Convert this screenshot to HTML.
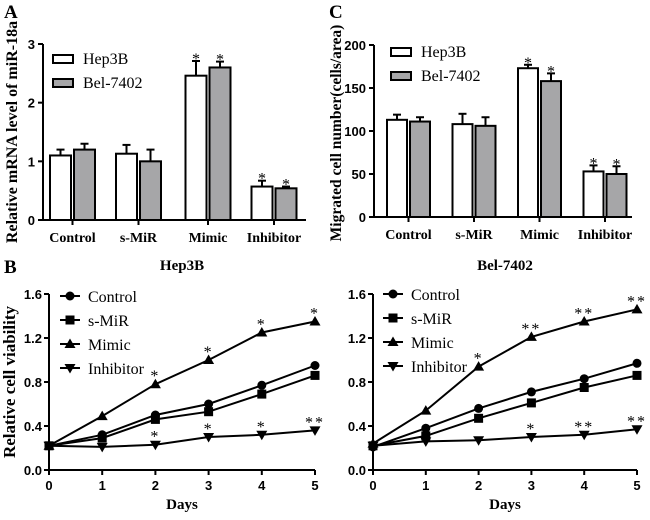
<!DOCTYPE html>
<html><head><meta charset="utf-8"><style>
body{margin:0;background:#fff}
svg text{fill:#000}
.tk{font:bold 13px "Liberation Sans",sans-serif}
.ser{font-family:"Liberation Serif",serif}
</style></head><body>
<svg id="s" width="650" height="515" xmlns="http://www.w3.org/2000/svg"></svg>
<script>
const NS='http://www.w3.org/2000/svg';
const svg=document.getElementById('s');
// Panel A data
const catsA=['Control','s-MiR','Mimic','Inhibitor'];
const hepA=[1.1,1.13,2.46,0.57];
const hepAerr=[0.1,0.15,0.25,0.1];
const belA=[1.2,1.0,2.6,0.54];
const belAerr=[0.1,0.2,0.1,0.03];
const starsA=['','','*','*'];
const ticksA=[0,1,2,3];
// Panel C data
const hepC=[113,108,173,53];
const hepCerr=[6,12,4,7];
const belC=[111,106,158,50];
const belCerr=[5,10,9,9];
const ticksC=[0,50,100,150,200];
// Panel B data
const days=[0,1,2,3,4,5];
const ticksB=[0,0.4,0.8,1.2,1.6];
const seriesNames=['Control','s-MiR','Mimic','Inhibitor'];
const hepCtrl=[0.22,0.32,0.50,0.60,0.77,0.95];
const hepSmir=[0.22,0.29,0.46,0.53,0.69,0.86];
const hepMim=[0.22,0.49,0.78,1.0,1.25,1.35];
const hepInh=[0.22,0.21,0.23,0.30,0.32,0.36];
const belCtrl=[0.21,0.38,0.56,0.71,0.83,0.97];
const belSmir=[0.22,0.31,0.47,0.61,0.75,0.86];
const belMim=[0.24,0.54,0.94,1.21,1.35,1.46];
const belInh=[0.22,0.26,0.27,0.30,0.32,0.37];
const hepMimStars=['','','*','*','*','*'];
const hepInhStars=['','','*','*','*','**'];
const belMimStars=['','','*','**','**','**'];
const belInhStars=['','','','*','**','**'];

function el(tag,attrs,parent,txt){const e=document.createElementNS(NS,tag);for(const k in attrs)e.setAttribute(k,attrs[k]);if(txt!==undefined)e.textContent=txt;(parent||svg).appendChild(e);return e;}

function barPanel(o){
  const g=el('g',{});
  
  
  const y=v=>o.y0+(o.y1-o.y0)*(v-o.min)/(o.max-o.min);
  el('line',{x1:o.ax,y1:o.y1,x2:o.ax,y2:o.y0,stroke:'#000','stroke-width':2},g);
  el('line',{x1:o.ax,y1:o.y0,x2:o.axEnd,y2:o.y0,stroke:'#000','stroke-width':2},g);
  o.ticks.forEach(t=>{const yy=y(t);el('line',{x1:o.ax-5,y1:yy,x2:o.ax,y2:yy,stroke:'#000','stroke-width':2},g);
    const tx=el('text',{x:o.ax-8,y:yy+5,'text-anchor':'end',class:'tk'},g,t);
    });
  o.cats.forEach((c,i)=>{
    const cx=o.centers[i];
    el('line',{x1:cx,y1:o.y0,x2:cx,y2:o.y0+5,stroke:'#000','stroke-width':2},g);
    const lb=el('text',{x:cx,y:o.y0+22,'text-anchor':'middle',class:'ser','font-weight':'bold','font-size':14},g,c);
    
    [[o.hep,o.hepErr,'#fff',-1],[o.bel,o.belErr,'#a6a6a8',1]].forEach(([vals,errs,fill,side])=>{
      const bx=side<0?cx-1.5-o.bw:cx+1.5;
      const top=y(vals[i]);
      const et=y(vals[i]+errs[i]);
      const mid=bx+o.bw/2;
      el('line',{x1:mid,y1:top,x2:mid,y2:et,stroke:'#000','stroke-width':2},g);
      el('line',{x1:mid-4,y1:et,x2:mid+4,y2:et,stroke:'#000','stroke-width':2},g);
      const r=el('rect',{x:bx,y:top,width:o.bw,height:o.y0-top,fill:fill,stroke:'#000','stroke-width':2},g);
      
      if(o.stars[i]){const st=el('text',{x:mid,y:et+3,'text-anchor':'middle','font-size':16,class:'ser',fill:'#555'},g,'*');
        }
    });
  });
  [['Hep3B','#fff',0],['Bel-7402','#a6a6a8',1]].forEach(([n,f,k])=>{
    const ly=o.legY+k*24;
    el('rect',{x:o.legX,y:ly,width:20,height:8,fill:f,stroke:'#000','stroke-width':2},g);
    const t=el('text',{x:o.legX+30,y:ly+9,class:'ser','font-size':16},g,n);
    
  });
  const yl=el('text',{x:o.ylx,y:o.ylc,'text-anchor':'middle',class:'ser','font-weight':'bold','font-size':o.ylfs,transform:`rotate(-90 ${o.ylx} ${o.ylc})`},g,o.ylabel);
  
}

barPanel({name:'panel-a-bar-chart',cats:catsA,hep:hepA,hepErr:hepAerr,bel:belA,belErr:belAerr,stars:starsA,ticks:ticksA,min:0,max:3,y0:220,y1:44,ax:43,axEnd:306,centers:[72.5,138.5,208,274],bw:21,legX:53,legY:55,ylx:17,ylc:132,ylfs:16,ylabel:'Relative mRNA level of miR-18a'});
barPanel({name:'panel-c-bar-chart',cats:catsA,hep:hepC,hepErr:hepCerr,bel:belC,belErr:belCerr,stars:starsA,ticks:ticksC,min:0,max:200,y0:217,y1:45,ax:374,axEnd:632,centers:[408.5,474,539.5,605],bw:20,legX:391,legY:48,ylx:341,ylc:133,ylfs:15.5,ylabel:'Migrated cell number(cells/area)'});

function marker(g,type,x,y){
  if(type===0)return el('circle',{cx:x,cy:y,r:4.5,fill:'#000'},g);
  if(type===1)return el('rect',{x:x-4.5,y:y-4.5,width:9,height:9,fill:'#000'},g);
  if(type===2)return el('polygon',{points:`${x},${y-5.5} ${x-5.5},${y+4} ${x+5.5},${y+4}`,fill:'#000'},g);
  return el('polygon',{points:`${x},${y+5.5} ${x-5.5},${y-4} ${x+5.5},${y-4}`,fill:'#000'},g);
}

function linePanel(o){
  const g=el('g',{});
  
  
  const X=d=>o.x0+(o.x1-o.x0)*d/5;
  const Y=v=>o.y0+(o.y1-o.y0)*v/1.6;
  el('line',{x1:o.x0,y1:o.y1,x2:o.x0,y2:o.y0,stroke:'#000','stroke-width':2},g);
  el('line',{x1:o.x0,y1:o.y0,x2:o.x1,y2:o.y0,stroke:'#000','stroke-width':2},g);
  ticksB.forEach(t=>{el('line',{x1:o.x0-5,y1:Y(t),x2:o.x0,y2:Y(t),stroke:'#000','stroke-width':2},g);
    const tx=el('text',{x:o.x0-7,y:Y(t)+5,'text-anchor':'end',class:'tk'},g,t.toFixed(1));
    });
  days.forEach(d=>{el('line',{x1:X(d),y1:o.y0,x2:X(d),y2:o.y0+5,stroke:'#000','stroke-width':2},g);
    const tx=el('text',{x:X(d),y:o.y0+20,'text-anchor':'middle',class:'tk'},g,d);
    });
  o.series.forEach((s,k)=>{
    const pl=el('polyline',{points:s.map((v,i)=>X(days[i])+','+Y(v)).join(' '),fill:'none',stroke:'#000','stroke-width':2},g);
    
    s.forEach((v,i)=>{const m=marker(g,k,X(days[i]),Y(v));
      });
  });
  [[o.series[2],o.mimStars],[o.series[3],o.inhStars]].forEach(([s,st])=>{
    st.forEach((t,i)=>{if(!t)return;
      const sx=el('text',{x:X(days[i]),y:Y(s[i])-3,'text-anchor':'middle','font-size':16,class:'ser',fill:'#555','letter-spacing':'2'},g,t);
      });
  });
  seriesNames.forEach((n,k)=>{
    const ly=o.legY+k*24;
    el('line',{x1:o.legX,y1:ly,x2:o.legX+20,y2:ly,stroke:'#000','stroke-width':2},g);
    marker(g,k,o.legX+10,ly);
    const t=el('text',{x:o.legX+28,y:ly+6,class:'ser','font-size':16},g,n);
    
  });
  const ti=el('text',{x:(o.x0+o.x1)/2,y:270,'text-anchor':'middle',class:'ser','font-weight':'bold','font-size':15},g,o.title);
  
  const xl=el('text',{x:(o.x0+o.x1)/2,y:509,'text-anchor':'middle',class:'ser','font-weight':'bold','font-size':15},g,'Days');
  
}
linePanel({name:'panel-b-hep3b-line-chart',title:'Hep3B',series:[hepCtrl,hepSmir,hepMim,hepInh],mimStars:hepMimStars,inhStars:hepInhStars,x0:49,x1:315,y0:470,y1:294,legX:60,legY:296});
linePanel({name:'panel-b-bel7402-line-chart',title:'Bel-7402',series:[belCtrl,belSmir,belMim,belInh],mimStars:belMimStars,inhStars:belInhStars,x0:373,x1:637,y0:470,y1:294,legX:383,legY:294});

const yb=el('text',{x:15,y:382,'text-anchor':'middle',class:'ser','font-weight':'bold','font-size':17,transform:'rotate(-90 15 382)'},svg,'Relative cell viability');

[['A',4,18],['C',329,18],['B',4,273]].forEach(([l,x,y])=>{
  const t=el('text',{x:x,y:y,class:'ser','font-weight':'bold','font-size':19},svg,l);
  
});
</script>
</body></html>
